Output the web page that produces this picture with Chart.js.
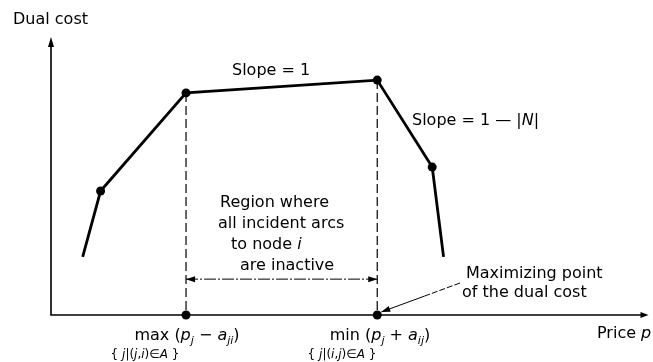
<!DOCTYPE html>
<html>
<head>
<meta charset="utf-8">
<script src="https://cdn.jsdelivr.net/npm/chart.js@4"></script>
<style>
  body { margin: 0; background: #fff; }
  canvas { display: block; }
</style>
</head>
<body>
<canvas id="dual" width="653" height="362"></canvas>
<script>
// dual cost as a function of the price p of node i (piecewise linear, concave)
const priceX = [5.3, 8.3, 22.6, 54.6, 63.8, 65.7];
const dualCost = [20.9, 44.6, 79.9, 84.5, 53.2, 20.9];
const kinkRadius = [0, 4.5, 4.5, 4.5, 4.5, 0];

// the two breakpoints bounding the flat-ish region (max / min over incident arcs)
const breakX = [22.6, 54.6];
const breakY = [79.9, 84.5];
const regionArrowY = 12.9;

const FONT = '"DejaVu Sans", sans-serif';

// text runs: [text, italic, subscript]
function drawRuns(ctx, x, y, runs, size, align) {
  const fontFor = r => (r[1] ? 'italic ' : '') + (r[2] ? Math.round(size * 0.7) : size) + 'px ' + FONT;
  let w = 0;
  runs.forEach(r => { ctx.font = fontFor(r); w += ctx.measureText(r[0]).width; });
  let cx = align === 'center' ? x - w / 2 : x;
  ctx.textAlign = 'left';
  ctx.textBaseline = 'alphabetic';
  runs.forEach(r => {
    ctx.font = fontFor(r);
    ctx.fillText(r[0], cx, r[2] ? y + size * 0.28 : y);
    cx += ctx.measureText(r[0]).width;
  });
}

function arrowHead(ctx, x, y, ang, len, half) {
  ctx.save();
  ctx.translate(x, y);
  ctx.rotate(ang);
  ctx.beginPath();
  ctx.moveTo(0, 0);
  ctx.lineTo(-len, -half);
  ctx.lineTo(-len, half);
  ctx.closePath();
  ctx.fill();
  ctx.restore();
}

const labels = [
  { x: 13, y: 24, size: 16, runs: [['Dual cost']] },
  { x: 232, y: 75, size: 16, runs: [['Slope = 1']] },
  { x: 412, y: 125, size: 16, runs: [['Slope = 1 \u2014 |'], ['N', true], ['|']] },
  { x: 220, y: 207, size: 16, runs: [['Region where']] },
  { x: 218, y: 228, size: 16, runs: [['all incident arcs']] },
  { x: 231, y: 249, size: 16, runs: [['to node '], ['i', true]] },
  { x: 240, y: 270, size: 16, runs: [['are inactive']] },
  { x: 466, y: 278, size: 16, runs: [['Maximizing point']] },
  { x: 462, y: 297, size: 16, runs: [['of the dual cost']] },
  { x: 597, y: 338, size: 16, runs: [['Price '], ['p', true]] },
  { x: 187, y: 340, size: 16, align: 'center',
    runs: [['max ('], ['p', true], ['j', true, true], [' \u2212 '], ['a', true], ['ji', true, true], [')']] },
  { x: 145, y: 358, size: 12, align: 'center',
    runs: [['{ '], ['j', true], ['|('], ['j', true], [','], ['i', true], [')\u2208'], ['A', true], [' }']] },
  { x: 380, y: 340, size: 16, align: 'center',
    runs: [['min ('], ['p', true], ['j', true, true], [' + '], ['a', true], ['ij', true, true], [')']] },
  { x: 342, y: 358, size: 12, align: 'center',
    runs: [['{ '], ['j', true], ['|('], ['i', true], [','], ['j', true], [')\u2208'], ['A', true], [' }']] },
];

const annotations = {
  id: 'annotations',
  beforeDatasetsDraw(chart) {
    const { ctx, chartArea: a } = chart;
    ctx.save();
    ctx.strokeStyle = '#000';
    ctx.fillStyle = '#000';
    ctx.lineWidth = 1.6;
    ctx.beginPath();
    ctx.moveTo(a.left, a.top + 6);
    ctx.lineTo(a.left, a.bottom);
    ctx.lineTo(a.right - 4, a.bottom);
    ctx.stroke();
    arrowHead(ctx, a.left, a.top, -Math.PI / 2, 10, 3);
    arrowHead(ctx, a.right, a.bottom, 0, 8, 3);
    ctx.restore();
  },
  afterDatasetsDraw(chart) {
    const { ctx, scales: { x, y } } = chart;
    ctx.save();
    ctx.fillStyle = '#000';
    ctx.strokeStyle = '#000';
    // ends of the region arrow
    const ry = y.getPixelForValue(regionArrowY);
    arrowHead(ctx, x.getPixelForValue(breakX[0]), ry, Math.PI, 9, 3);
    arrowHead(ctx, x.getPixelForValue(breakX[1]), ry, 0, 9, 3);
    // leader from the note to the maximizing point, dashed at its far end
    const px = x.getPixelForValue(breakX[1]) + 4, py = y.getPixelForValue(0) - 3;
    const sx = 460, sy = 283;
    const mx = sx + (px - sx) * 0.45, my = sy + (py - sy) * 0.45;
    ctx.lineWidth = 1;
    ctx.setLineDash([6, 2]);
    ctx.beginPath();
    ctx.moveTo(sx, sy);
    ctx.lineTo(mx, my);
    ctx.stroke();
    ctx.setLineDash([]);
    ctx.beginPath();
    ctx.moveTo(mx, my);
    ctx.lineTo(px, py);
    ctx.stroke();
    arrowHead(ctx, px, py, Math.atan2(py - sy, px - sx), 9, 3);
    labels.forEach(l => drawRuns(ctx, l.x, l.y, l.runs, l.size, l.align));
    ctx.restore();
  }
};

const guide = i => ({
  data: [{ x: breakX[i], y: breakY[i] }, { x: breakX[i], y: 0 }],
  showLine: true,
  borderColor: '#000',
  borderWidth: 1.2,
  borderDash: [9, 4],
  pointRadius: 0,
});

const data = {
  datasets: [
    {
      data: priceX.map((p, i) => ({ x: p, y: dualCost[i] })),
      showLine: true,
      borderColor: '#000',
      borderWidth: 2.8,
      pointRadius: kinkRadius,
      pointBackgroundColor: '#000',
      pointBorderWidth: 0,
      clip: false,
    },
    guide(0),
    guide(1),
    {
      data: [{ x: breakX[0], y: regionArrowY }, { x: breakX[1], y: regionArrowY }],
      showLine: true,
      borderColor: '#000',
      borderWidth: 1,
      borderDash: [12, 2, 2, 2],
      pointRadius: 0,
    },
    {
      data: breakX.map(b => ({ x: b, y: 0 })),
      pointRadius: 4.5,
      pointBackgroundColor: '#000',
      pointBorderWidth: 0,
      clip: false,
    },
  ]
};

const config = {
  type: 'scatter',
  data: data,
  options: {
    responsive: false,
    animation: false,
    devicePixelRatio: 1,
    layout: { padding: { left: 51, top: 37, right: 1, bottom: 47 } },
    scales: {
      x: { type: 'linear', min: 0, max: 100, display: false },
      y: { type: 'linear', min: 0, max: 100, display: false },
    },
    plugins: {
      legend: { display: false },
      tooltip: { enabled: false },
    }
  },
  plugins: [annotations],
};

const chart = new Chart(document.getElementById('dual'), config);
</script>
</body>
</html>
